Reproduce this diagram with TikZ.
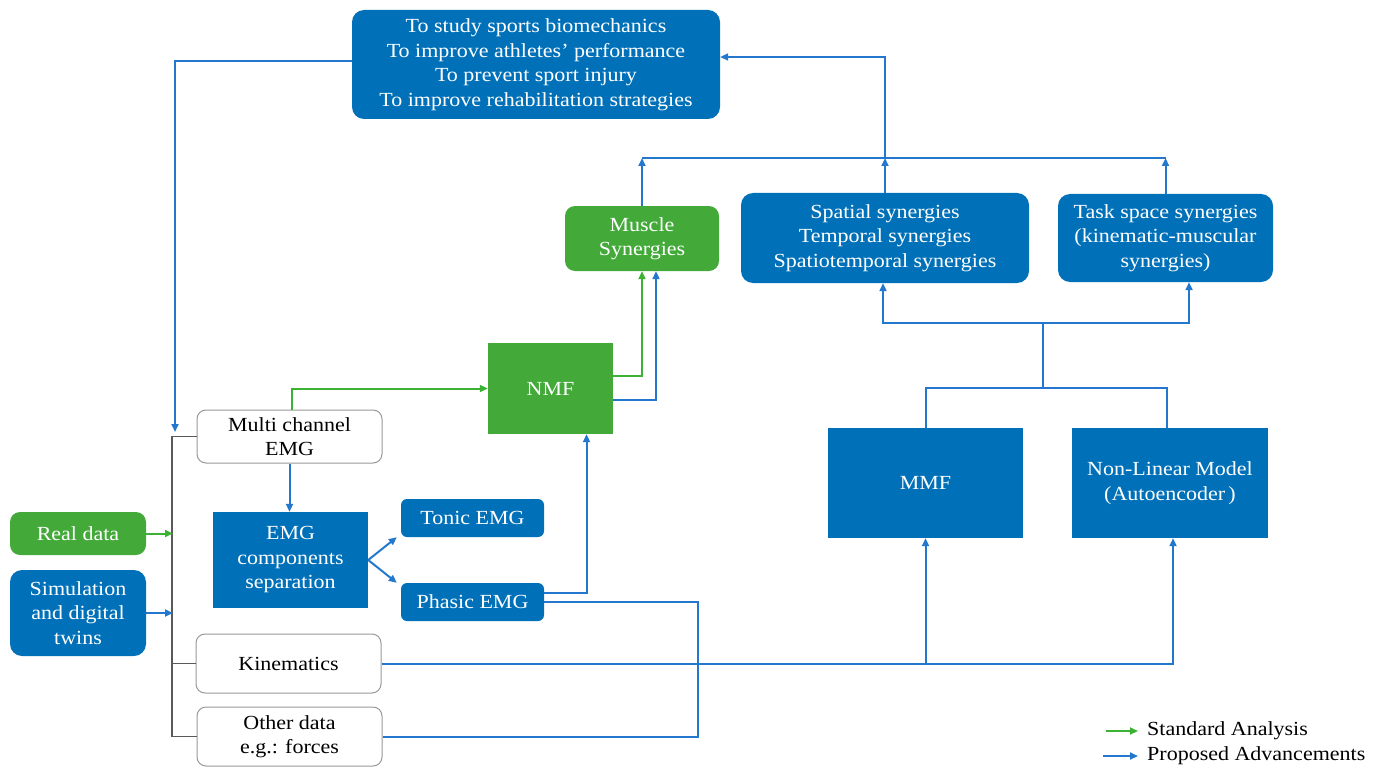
\documentclass[tikz,border=0pt]{standalone}
\usepackage{fontspec}
\setmainfont{Liberation Serif}[FakeStretch=1.1]
\usetikzlibrary{arrows.meta}
\definecolor{boxblue}{RGB}{0,113,185}
\definecolor{lineblue}{RGB}{35,120,205}
\definecolor{boxgreen}{RGB}{67,170,58}
\definecolor{linegreen}{RGB}{60,178,52}
\tikzset{
 base/.style={align=center, inner sep=0pt, font=\fontsize{20}{24.5}\selectfont},
 bbox/.style={base, fill=boxblue, text=white, rounded corners=12pt},
 bsq/.style={base, fill=boxblue, text=white},
 gbox/.style={base, fill=boxgreen, text=white, rounded corners=10pt},
 gsq/.style={base, fill=boxgreen, text=white},
 wbox/.style={base, draw=gray!80, line width=1pt, fill=white, text=black, rounded corners=9pt},
 legtext/.style={base, text=black},
 bline/.style={draw=lineblue, line width=2pt},
 barrow/.style={bline, -{Triangle[length=8pt,width=7pt]}},
 gline/.style={draw=linegreen, line width=2pt},
 garrow/.style={gline, -{Triangle[length=8pt,width=7pt]}},
 gbus/.style={draw=gray!70!black, line width=1.2pt},
}
\begin{document}
\begin{tikzpicture}[x=1pt,y=-1pt]
\useasboundingbox (0,0) rectangle (1383,770);
% nodes
\node[bbox, minimum width=368pt, minimum height=109pt] (goal) at (536,64.5)
 {To study sports biomechanics\\To improve athletes’ performance\\To prevent sport injury\\To improve rehabilitation strategies};
\node[gbox, minimum width=154pt, minimum height=65pt] (muscle) at (642,238.5) {Muscle\\Synergies};
\node[bbox, minimum width=288pt, minimum height=90pt] (spatial) at (885,238)
 {Spatial synergies\\Temporal synergies\\Spatiotemporal synergies};
\node[bbox, minimum width=215pt, minimum height=88pt] (task) at (1165.5,238)
 {Task space synergies\\(kinematic-muscular\\synergies)};
\node[gsq, minimum width=125pt, minimum height=91pt] (nmf) at (550.5,388.5) {NMF};
\node[bsq, minimum width=195pt, minimum height=110pt] (mmf) at (925.5,483) {MMF};
\node[bsq, minimum width=196pt, minimum height=110pt] (nlm) at (1170,483) {Non-Linear Model\\(Autoencoder\,)};
\node[wbox, minimum width=185pt, minimum height=53pt] (mce) at (289.5,436.5) {Multi channel\\EMG};
\node[bsq, minimum width=155pt, minimum height=96pt] (emgsep) at (290.5,560) {EMG\\components\\separation};
\node[bbox, rounded corners=6pt, minimum width=143pt, minimum height=38pt] (tonic) at (472.5,518) {Tonic EMG};
\node[bbox, rounded corners=6pt, minimum width=143pt, minimum height=38pt] (phasic) at (472.5,602) {Phasic EMG};
\node[gbox, minimum width=136pt, minimum height=43pt] (real) at (78,533.5) {Real data};
\node[bbox, minimum width=136pt, minimum height=86pt] (sim) at (78,613) {Simulation\\and digital\\twins};
\node[wbox, minimum width=185pt, minimum height=59pt] (kin) at (288.5,663.5) {Kinematics};
\node[wbox, minimum width=185pt, minimum height=59pt] (other) at (289.5,736.5) {Other data\\e.g.: forces};
% coordinates
\coordinate (busA) at (172,436.5);
\coordinate (busTop) at (175,432);
\coordinate (junc) at (1043,388);
\coordinate (junc2) at (1043,323);
\coordinate (barL) at (642,158);
\coordinate (barR) at (1165.5,158);
% gray bus
\draw[gbus] (mce.west) -- (busA) -- (busA |- other.west) -- (other.west);
\draw[gbus] (kin.west) -- (kin.west -| busA);
% inputs
\draw[garrow] (real.east) -- ([xshift=1pt]real.east -| busA);
\draw[barrow] (sim.east) -- ([xshift=1pt]sim.east -| busA);
% goal feedback
\draw[barrow] ([yshift=3.5pt]goal.west) -| (busTop);
% EMG path
\draw[barrow] (mce.south) -- (mce.south |- emgsep.north);
\draw[barrow] (emgsep.east) -- ([xshift=-4pt]tonic.south west);
\draw[barrow] (emgsep.east) -- ([xshift=-4pt]phasic.north west);
\draw[garrow] ([xshift=2.5pt]mce.north) |- (nmf.west);
\draw[barrow] ([yshift=9pt]phasic.east) -| ([xshift=36pt]nmf.south);
\draw[bline] (phasic.east) -- ++(154,0) |- (other.east);
% NMF to muscle synergies
\draw[garrow] ([yshift=12.5pt]nmf.east) -| (muscle.south);
\draw[barrow] ([yshift=-11.5pt]nmf.east) -| ([xshift=14pt]muscle.south);
% kinematics to models
\draw[barrow] (kin.east) -| (mmf.south);
\draw[barrow] (kin.east) -| ([xshift=3pt]nlm.south);
% models to synergies
\draw[bline] (mmf.north) |- (junc) -| ([xshift=-3pt]nlm.north);
\draw[bline] (junc) -- (junc2);
\draw[barrow] (junc2) -| ([xshift=-2pt]spatial.south);
\draw[barrow] (junc2) -| ([xshift=23.5pt]task.south);
% synergies up to bar
\draw[barrow] (muscle.north) -- (barL);
\draw[barrow] (spatial.north) -- (spatial.north |- barL);
\draw[barrow] (task.north) -- (barR);
\draw[bline] (barL) -- (barR);
\draw[barrow] (spatial.north |- barL) |- ([yshift=7.5pt]goal.east);
% legend
\node[legtext, anchor=west] (lgA) at (1147,731) {Standard Analysis};
\node[legtext, anchor=west] (lgB) at (1147,756) {Proposed Advancements};
\draw[garrow] ([xshift=-41pt]lgA.west) -- ([xshift=-9pt]lgA.west);
\draw[barrow] ([xshift=-44pt]lgB.west) -- ([xshift=-9pt]lgB.west);
\end{tikzpicture}
\end{document}
